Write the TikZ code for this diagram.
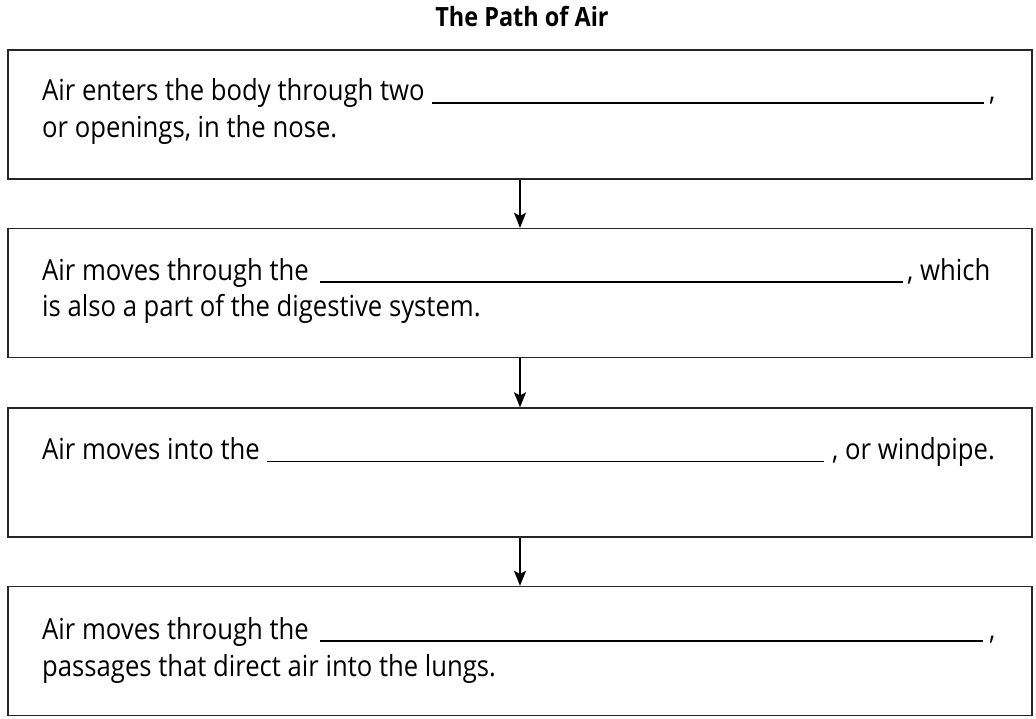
\documentclass[tikz,border=0pt]{standalone}
\usepackage{fontspec}
\setmainfont{Open Sans}[FakeStretch=0.885]
\usetikzlibrary{arrows.meta}
\begin{document}
\begin{tikzpicture}[x=1pt,y=-1pt,
  box/.style={draw=black!85, line width=1.4pt, minimum width=1024pt, minimum height=129pt, inner sep=0pt},
  body/.style={anchor=base west, inner sep=0pt, font=\fontsize{29}{35}\selectfont},
  blank/.style={line width=1.4pt},
  flow/.style={line width=1.4pt, -{Stealth[length=15pt,width=12pt,inset=3pt]}}]
\useasboundingbox (0,0) rectangle (1036,718);
\node[anchor=base, inner sep=0pt, font=\bfseries\fontsize{26.5}{30}\selectfont] (title) at (522,26) {The Path of Air};
\node[box] (b1) at (520,114.5) {};
\node[box] (b2) at (520,293) {};
\node[box] (b3) at (520,472.5) {};
\node[box] (b4) at (520,651) {};
% box 1
\node[body] (t1a) at (42,100) {Air enters the body through two};
\coordinate (l1s) at (432,103); \coordinate (l1e) at (984,103);
\draw[blank] (l1s) -- (l1e);
\node[body] (t1b) at (989,100) {,};
\node[body] (t1c) at (42,137) {or openings, in the nose.};
% box 2
\node[body] (t2a) at (42,280) {Air moves through the};
\coordinate (l2s) at (320,282); \coordinate (l2e) at (903,282);
\draw[blank] (l2s) -- (l2e);
\node[body] (t2b) at (907,280) {, which};
\node[body] (t2c) at (42,316.5) {is also a part of the digestive system.};
% box 3
\node[body] (t3a) at (42,459) {Air moves into the};
\coordinate (l3s) at (267,461.5); \coordinate (l3e) at (824,461.5);
\draw[blank] (l3s) -- (l3e);
\node[body] (t3b) at (832,459) {, or windpipe.};
% box 4
\node[body] (t4a) at (42,639) {Air moves through the};
\coordinate (l4s) at (320,641); \coordinate (l4e) at (983,641);
\draw[blank] (l4s) -- (l4e);
\node[body] (t4b) at (989,639) {,};
\node[body] (t4c) at (42,676) {passages that direct air into the lungs.};
% arrows
\draw[flow] (b1) -- (b2);
\draw[flow] (b2) -- (b3);
\draw[flow] (b3) -- (b4);
\end{tikzpicture}
\end{document}
